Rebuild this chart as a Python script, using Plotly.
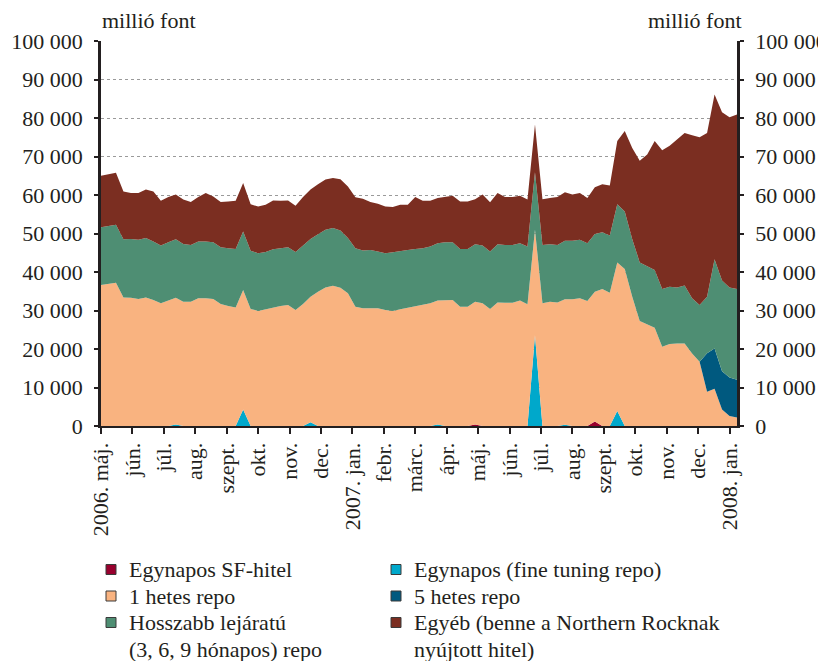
import plotly.graph_objects as go

# ---------------- data (millió font), weekly observations ----------------
N_WEEKS = 86
week_index = list(range(N_WEEKS))

sf_hitel = [0, 0, 0, 0, 0, 0, 0, 0, 0, 0,
            0, 0, 0, 0, 0, 0, 0, 0, 0, 0,
            0, 0, 0, 0, 0, 0, 0, 0, 0, 0,
            0, 0, 0, 0, 0, 0, 0, 0, 0, 0,
            0, 0, 0, 0, 0, 0, 0, 0, 0, 0,
            400, 0, 0, 0, 0, 0, 0, 0, 0, 0,
            0, 0, 0, 0, 0, 0, 1200, 0, 0, 0,
            0, 0, 0, 0, 0, 0, 0, 0, 0, 0,
            0, 0, 0, 0, 0, 0]

fine_tuning = [0, 0, 0, 0, 0, 0, 0, 0, 0, 0,
               400, 0, 0, 0, 0, 0, 0, 0, 0, 4300,
               0, 0, 0, 0, 0, 0, 0, 0, 1000, 0,
               0, 0, 0, 0, 0, 0, 0, 0, 0, 0,
               0, 0, 0, 0, 0, 400, 0, 0, 0, 0,
               0, 0, 0, 0, 0, 0, 0, 0, 23600, 0,
               0, 0, 300, 0, 0, 0, 0, 0, 0, 3900,
               0, 0, 0, 0, 0, 0, 0, 0, 0, 0,
               0, 0, 0, 0, 0, 0]

repo_1w = [36600, 36900, 37200, 33400, 33300, 33000, 33400, 32700, 31900, 32600,
           32900, 32300, 32300, 33200, 33200, 33000, 31700, 31200, 30800, 31000,
           30400, 29900, 30300, 30800, 31200, 31400, 30100, 31700, 32600, 34900,
           36000, 36400, 35900, 34500, 31000, 30600, 30600, 30600, 30100, 29900,
           30300, 30700, 31000, 31400, 31900, 32200, 32700, 32700, 31000, 31000,
           31900, 31900, 30400, 32100, 32000, 32000, 32600, 31600, 27400, 31900,
           32300, 32100, 32600, 32900, 33200, 32500, 33700, 35600, 34600, 38600,
           40800, 33600, 27300, 26400, 25500, 20600, 21300, 21400, 21400, 18800,
           16700, 8900, 9700, 4300, 2600, 2200]

repo_5w = [0, 0, 0, 0, 0, 0, 0, 0, 0, 0,
           0, 0, 0, 0, 0, 0, 0, 0, 0, 0,
           0, 0, 0, 0, 0, 0, 0, 0, 0, 0,
           0, 0, 0, 0, 0, 0, 0, 0, 0, 0,
           0, 0, 0, 0, 0, 0, 0, 0, 0, 0,
           0, 0, 0, 0, 0, 0, 0, 0, 0, 0,
           0, 0, 0, 0, 0, 0, 0, 0, 0, 0,
           0, 0, 0, 0, 0, 0, 0, 0, 0, 0,
           0, 10000, 10400, 9900, 10000, 9800]

repo_long = [15000, 15100, 15100, 15100, 15300, 15400, 15400, 15200, 15000, 15100,
             15200, 15000, 14700, 14700, 14700, 14700, 14700, 15000, 15200, 15200,
             15100, 15000, 14900, 15100, 15000, 15000, 15100, 15100, 15000, 14900,
             15000, 15000, 14900, 14300, 15200, 15000, 15100, 14700, 14800, 15200,
             15200, 15000, 15000, 14800, 14700, 14900, 15000, 15000, 15000, 15000,
             14900, 15000, 14900, 15100, 15000, 15000, 14900, 15000, 14900, 15100,
             14900, 14900, 15200, 15200, 15200, 15000, 15000, 14700, 14900, 15100,
             14900, 14900, 15200, 15000, 15000, 15000, 14900, 14600, 15100, 14400,
             14700, 14700, 23200, 23600, 23400, 23600]

other = [13400, 13400, 13500, 12400, 11900, 12100, 12600, 13000, 11600, 11800,
         11600, 11500, 11200, 11600, 12600, 11900, 11800, 12100, 12500, 12600,
         12100, 12100, 12300, 12700, 12300, 12200, 12000, 12700, 12800, 13000,
         13000, 13000, 13300, 13400, 13200, 13400, 12500, 12400, 12100, 11800,
         12000, 11800, 13500, 12300, 11900, 11700, 11800, 12100, 12300, 12300,
         11700, 13200, 12800, 13300, 12500, 12500, 12300, 12200, 12400, 11900,
         12000, 12500, 12600, 12000, 12100, 11700, 12100, 12500, 13000, 16400,
         20900, 23700, 26400, 29100, 33500, 36000, 36600, 38400, 39600, 42300,
         43600, 42500, 42800, 43700, 44200, 45300]

series_names = [
    "Egynapos SF-hitel",
    "Egynapos (fine tuning repo)",
    "1 hetes repo",
    "5 hetes repo",
    "Hosszabb lejáratú\n(3, 6, 9 hónapos) repo",
    "Egyéb (benne a Northern Rocknak\nnyújtott hitel)",
]
series_values = [sf_hitel, fine_tuning, repo_1w, repo_5w, repo_long, other]
series_colors = ["#98002E", "#00A8CB", "#F9B380", "#00597F", "#4E8E73", "#7B2E21"]

# month tick labels (one label every 4.2 weekly observations)
month_labels = ["2006. máj.", "jún.", "júl.", "aug.", "szept.", "okt.", "nov.", "dec.",
                "2007. jan.", "febr.", "márc.", "ápr.", "máj.", "jún.", "júl.", "aug.",
                "szept.", "okt.", "nov.", "dec.", "2008. jan."]
weeks_per_month = 4.2
month_ticks = [i * weeks_per_month for i in range(len(month_labels))]

y_ticks = [0, 10000, 20000, 30000, 40000, 50000, 60000, 70000, 80000, 90000, 100000]
unit_label = "millió font"

# ---------------- figure ----------------
FONT = "Liberation Serif, Times New Roman, serif"
TXT = "#231F20"
W, H = 826, 661
OFF = 8  # page body margin offset
# plot area in page pixels
PX_L, PX_R, PX_T, PX_B = 101, 737, 41, 426
L = PX_L - OFF
T = PX_T - OFF
R = W - (PX_R - OFF)
B = H - (PX_B - OFF)
PW, PH = PX_R - PX_L, PX_B - PX_T


def px_x(px):
    return (px - PX_L) / PW


def px_y(py):
    return (PX_B - py) / PH


fig = go.Figure()
for name, vals, col in zip(series_names, series_values, series_colors):
    fig.add_trace(go.Scatter(
        x=week_index, y=vals, name=name.replace("\n", " "),
        mode="lines", stackgroup="one",
        line=dict(width=0, color=col), fillcolor=col,
        showlegend=False, hoverinfo="skip",
    ))

# invisible total on the right-hand axis so that it carries its own labels
total = [sum(v) for v in zip(*series_values)]
fig.add_trace(go.Scatter(
    x=week_index, y=total, yaxis="y2", mode="lines",
    line=dict(width=0, color="rgba(0,0,0,0)"), showlegend=False, hoverinfo="skip",
))

axis_font = dict(family=FONT, size=22, color=TXT)

fig.update_layout(
    width=W, height=H,
    margin=dict(l=L, r=R, t=T, b=B, pad=0, autoexpand=False),
    paper_bgcolor="white", plot_bgcolor="white",
    separators=", ",
    showlegend=False,
    xaxis=dict(
        range=[0, N_WEEKS - 1], tickmode="array", tickvals=month_ticks, ticktext=month_labels,
        tickangle=-90, tickfont=axis_font, showgrid=False, zeroline=False,
        showline=True, linecolor="#231F20", linewidth=2, automargin=False,
        ticks="outside", ticklen=6, tickwidth=1.5, tickcolor="#231F20",
    ),
    yaxis=dict(
        range=[0, 100000], tickmode="array", tickvals=y_ticks, tickformat=",d",
        tickfont=axis_font, showgrid=True, gridcolor="#9A9A9A", gridwidth=1, griddash="dot",
        zeroline=False, showline=True, linecolor="#231F20", linewidth=2.5, automargin=False,
        ticks="outside", ticklen=4, tickwidth=2, tickcolor="#231F20",
        ticklabelstandoff=7,
    ),
    yaxis2=dict(
        range=[0, 100000], tickmode="array", tickvals=y_ticks, tickformat=",d",
        tickfont=axis_font, overlaying="y", side="right", anchor="x",
        showgrid=False, zeroline=False, showline=True, linecolor="#231F20", linewidth=2.5,
        automargin=False,
        ticks="outside", ticklen=4, tickwidth=2, tickcolor="#231F20",
        ticklabelstandoff=7,
    ),
)

annotations = [
    dict(text=unit_label, xref="paper", yref="paper", x=px_x(100), y=px_y(20),
         xanchor="left", yanchor="middle", showarrow=False, font=axis_font),
    dict(text=unit_label, xref="paper", yref="paper", x=px_x(744), y=px_y(20),
         xanchor="right", yanchor="middle", showarrow=False, font=axis_font),
]

# custom two-column legend
shapes = []
col_sq_x = [106, 391]
col_txt_x = [127, 412]
row_y = [569.5, 596, 622.5]
line_gap = 26.5
sq = 10
for k, (name, col) in enumerate(zip(series_names, series_colors)):
    c = k % 2
    r = k // 2
    cy = row_y[r]
    shapes.append(dict(
        type="rect", xref="paper", yref="paper",
        x0=px_x(col_sq_x[c]), x1=px_x(col_sq_x[c] + sq),
        y0=px_y(cy + sq / 2), y1=px_y(cy - sq / 2),
        fillcolor=col, line=dict(color="#3A3A3A", width=1),
    ))
    for j, line in enumerate(name.split("\n")):
        annotations.append(dict(
            text=line, xref="paper", yref="paper",
            x=px_x(col_txt_x[c]), y=px_y(cy + j * line_gap),
            xanchor="left", yanchor="middle", showarrow=False,
            font=dict(family=FONT, size=22, color=TXT),
        ))

fig.update_layout(annotations=annotations, shapes=shapes)

fig.write_html("out.html")
